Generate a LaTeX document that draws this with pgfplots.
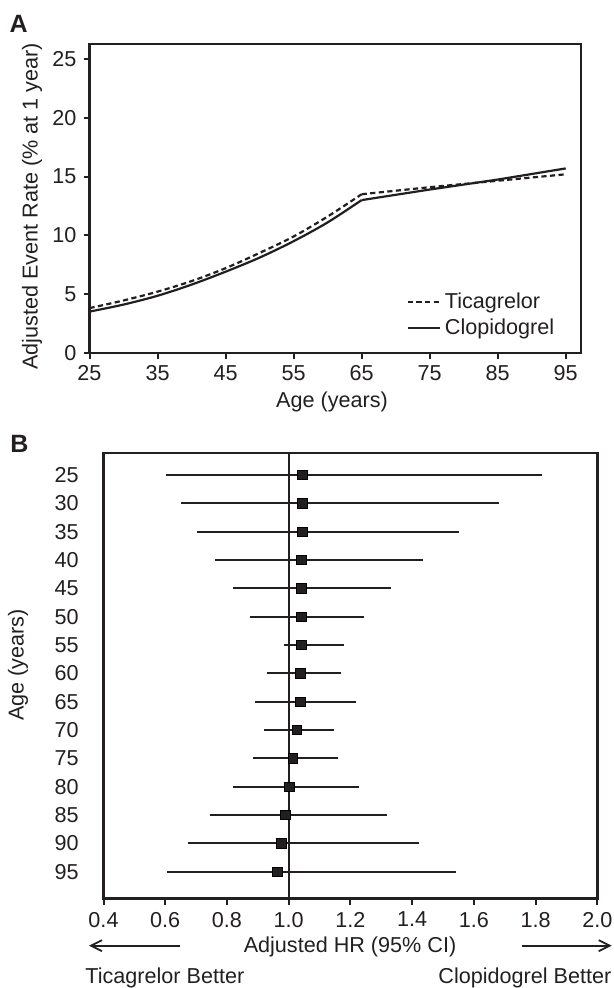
\documentclass[border=0pt]{standalone}
\usepackage{fontspec}
\setmainfont{Liberation Sans}
\usepackage{pgfplots}
\pgfplotsset{compat=1.18}
\usepackage{pgfplotstable}
\usetikzlibrary{arrows.meta}
\definecolor{ink}{RGB}{35,31,32}
\newcommand\lf{\fontsize{10.8}{13}\selectfont}

% panel A: adjusted event rate, curved part up to 65, straight after
\pgfplotstableread{
age tica clop
25 3.80 3.50
30 4.45 4.10
35 5.20 4.85
40 6.10 5.80
45 7.20 6.90
50 8.50 8.10
55 9.90 9.50
60 11.60 11.10
65 13.50 13.00
}\ratesyoung
\pgfplotstableread{
age tica clop
65 13.50 13.00
75 14.10 13.90
85 14.65 14.75
95 15.20 15.70
}\ratesold

% panel B: adjusted HR with 95% CI by age
\pgfplotstableread{
age hr lo hi
25 1.044 0.604 1.822
30 1.044 0.652 1.681
35 1.044 0.703 1.553
40 1.041 0.760 1.435
45 1.041 0.819 1.330
50 1.041 0.876 1.244
55 1.041 0.986 1.178
60 1.038 0.929 1.168
65 1.038 0.890 1.218
70 1.026 0.919 1.148
75 1.014 0.886 1.160
80 1.002 0.819 1.228
85 0.990 0.744 1.319
90 0.977 0.673 1.423
95 0.964 0.607 1.541
}\hrdata

\begin{document}
\begin{tikzpicture}
\useasboundingbox (0,0) rectangle (307pt,-494pt);

\node[anchor=base west, inner sep=0pt, text=ink, font=\fontsize{12.5}{14}\selectfont\bfseries] at (4.65pt,-16.15pt) {A};
\node[anchor=base west, inner sep=0pt, text=ink, font=\fontsize{12.5}{14}\selectfont\bfseries] at (5pt,-226pt) {B};

\begin{axis}[
    at={(44.75pt,-176.35pt)}, anchor=south west,
    scale only axis, width=245.6pt, height=154.35pt,
    xmin=25, xmax=97.2, ymin=0, ymax=26.3,
    xtick={25,35,...,95}, ytick={0,5,...,25},
    xtick pos=left, ytick pos=left,
    tick align=outside, major tick length=3pt,
    axis line style={line width=1.2pt, ink},
    tick style={line width=1pt, ink},
    tick label style={font=\lf, text=ink},
    /pgf/number format/assume math mode=true,
    legend style={at={(0.645,0.122)}, anchor=west, draw=none, fill=none,
        font=\lf, text=ink, inner sep=0pt, cells={anchor=west}},
    legend image code/.code={\draw[#1] (0pt,0pt) -- (16pt,0pt);},
]
\addplot[ink, line width=1.1pt, dash pattern=on 2.6pt off 1.7pt, smooth] table[x=age, y=tica] {\ratesyoung};
\addlegendentry{Ticagrelor}
\addplot[ink, line width=1.1pt, smooth] table[x=age, y=clop] {\ratesyoung};
\addlegendentry{Clopidogrel}
\addplot[ink, line width=1.1pt, dash pattern=on 2.6pt off 1.7pt, forget plot] table[x=age, y=tica] {\ratesold};
\addplot[ink, line width=1.1pt, forget plot] table[x=age, y=clop] {\ratesold};
\end{axis}

\node[rotate=90, text=ink, font=\lf] at (16pt,-103.15pt) {Adjusted Event Rate (\% at 1 year)};
\node[anchor=base, text=ink, font=\lf, inner sep=0pt] at (166pt,-204pt) {Age (years)};

\begin{axis}[
    at={(51.75pt,-449.15pt)}, anchor=south west,
    scale only axis, width=246.9pt, height=222.8pt,
    xmin=0.4, xmax=2.0, ymin=21.07, ymax=99.7, y dir=reverse,
    xtick={0.4,0.6,0.8,1.0,1.2,1.4,1.6,1.8,2.0},
    ytick={25,30,...,95},
    xtick pos=left, ytick pos=left,
    tick align=outside, major tick length=3.3pt,
    ytick style={draw=none},
    axis line style={line width=1.2pt, ink},
    tick style={line width=1pt, ink},
    tick label style={font=\lf, text=ink},
    yticklabel style={xshift=-5.65pt},
    xticklabel style={/pgf/number format/.cd, fixed, fixed zerofill, precision=1},
    /pgf/number format/assume math mode=true,
]
\addplot[ink, line width=1.1pt] coordinates {(1,21.07) (1,99.7)};
\addplot[only marks, mark=square*, mark size=2.37pt,
    mark options={draw=none, fill=ink},
    error bars/.cd, x dir=both, x explicit, error mark=none,
    error bar style={line width=0.9pt, ink}]
    table[x=hr, y=age,
        x error plus expr=\thisrow{hi}-\thisrow{hr},
        x error minus expr=\thisrow{hr}-\thisrow{lo}] {\hrdata};
\end{axis}

\node[rotate=90, text=ink, font=\lf] at (9pt,-332.5pt) {Age (years)};
\node[anchor=base, text=ink, font=\lf, inner sep=0pt] at (175pt,-476pt) {Adjusted HR (95\% CI)};
\draw[ink, line width=0.9pt, -{Straight Barb[length=5.5pt, width=5.5pt]}] (90pt,-472.85pt) -- (44.5pt,-472.85pt);
\draw[ink, line width=0.9pt, -{Straight Barb[length=5.5pt, width=5.5pt]}] (260.85pt,-472.85pt) -- (305.85pt,-472.85pt);
\node[anchor=base west, text=ink, font=\lf, inner sep=0pt] at (42.5pt,-491.5pt) {Ticagrelor Better};
\node[anchor=base east, text=ink, font=\lf, inner sep=0pt] at (305.85pt,-491.5pt) {Clopidogrel Better};
\end{tikzpicture}
\end{document}
